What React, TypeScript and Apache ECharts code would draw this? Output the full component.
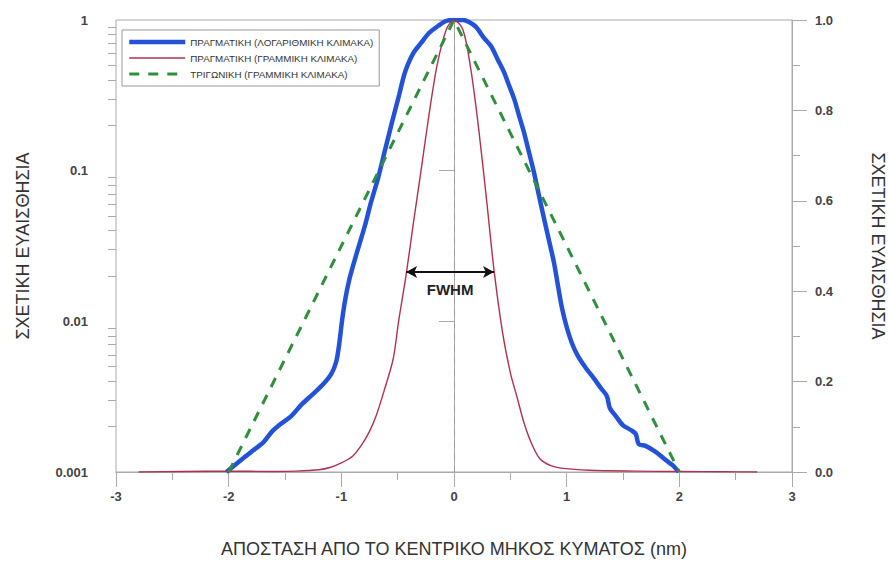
import React, { useEffect, useRef } from "react";
import * as echarts from "echarts";

// ΠΡΑΓΜΑΤΙΚΗ (ΛΟΓΑΡΙΘΜΙΚΗ ΚΛΙΜΑΚΑ) — log scale, left axis
const blueX = [-2.02, -1.92, -1.8, -1.69, -1.62, -1.55, -1.445, -1.356, -1.25, -1.16, -1.09, -1.046, -1.02, -0.993, -0.966, -0.93, -0.886, -0.842, -0.789, -0.736, -0.674, -0.612, -0.55, -0.487, -0.443, -0.408, -0.355, -0.292, -0.222, -0.142, -0.071, 0, 0.08, 0.133, 0.195, 0.266, 0.328, 0.39, 0.443, 0.487, 0.532, 0.576, 0.62, 0.665, 0.709, 0.753, 0.798, 0.842, 0.886, 0.922, 0.957, 1.0, 1.046, 1.099, 1.17, 1.24, 1.303, 1.356, 1.383, 1.436, 1.498, 1.569, 1.613, 1.64, 1.7, 1.79, 1.879, 1.94, 1.994];
const blueY = [0.001, 0.00115, 0.00136, 0.00158, 0.00184, 0.00205, 0.00235, 0.00279, 0.0033, 0.00384, 0.00447, 0.00537, 0.00697, 0.0102, 0.0139, 0.0188, 0.0248, 0.0321, 0.0436, 0.062, 0.0893, 0.137, 0.21, 0.318, 0.431, 0.51, 0.613, 0.704, 0.82, 0.912, 0.985, 1.0, 1.0, 0.97, 0.9, 0.76, 0.672, 0.543, 0.452, 0.37, 0.303, 0.234, 0.181, 0.133, 0.098, 0.069, 0.0485, 0.0347, 0.0248, 0.0174, 0.0124, 0.00917, 0.00718, 0.00589, 0.0049, 0.0042, 0.00361, 0.0032, 0.00266, 0.00235, 0.00205, 0.0019, 0.00179, 0.00153, 0.00149, 0.00136, 0.0012, 0.00111, 0.001];

// ΠΡΑΓΜΑΤΙΚΗ (ΓΡΑΜΜΙΚΗ ΚΛΙΜΑΚΑ) — linear scale, right axis
const redX = [-2.8, -2.4, -2.0, -1.6, -1.4, -1.2, -1.1, -1.0, -0.9, -0.82, -0.75, -0.69, -0.62, -0.54, -0.49, -0.425, -0.363, -0.292, -0.222, -0.15, -0.07, 0, 0.08, 0.15, 0.22, 0.29, 0.355, 0.43, 0.5, 0.56, 0.62, 0.68, 0.76, 0.86, 0.97, 1.2, 1.6, 2.0, 2.4, 2.69];
const redY = [0, 0.001, 0.002, 0.001, 0.002, 0.005, 0.01, 0.02, 0.035, 0.06, 0.09, 0.125, 0.18, 0.25, 0.336, 0.436, 0.546, 0.668, 0.79, 0.9, 0.978, 1.0, 0.978, 0.89, 0.757, 0.6, 0.447, 0.31, 0.22, 0.165, 0.11, 0.068, 0.03, 0.014, 0.008, 0.004, 0.002, 0.001, 0.0005, 0];

// ΤΡΙΓΩΝΙΚΗ (ΓΡΑΜΜΙΚΗ ΚΛΙΜΑΚΑ)
const greenX = [-2, 0, 2];
const greenY = [0, 1, 0];

const xTicks = [-3, -2, -1, 0, 1, 2, 3];
const logMinorTicks = [0.002, 0.003, 0.004, 0.005, 0.006, 0.007, 0.008, 0.009, 0.02, 0.03, 0.04, 0.05, 0.06, 0.07, 0.08, 0.09, 0.2, 0.3, 0.4, 0.5, 0.6, 0.7, 0.8, 0.9];

const fwhmX = [-0.425, 0.355];
const fwhmLevel = 0.4425;

const seriesNames = [
  "ΠΡΑΓΜΑΤΙΚΗ (ΛΟΓΑΡΙΘΜΙΚΗ ΚΛΙΜΑΚΑ)",
  "ΠΡΑΓΜΑΤΙΚΗ (ΓΡΑΜΜΙΚΗ ΚΛΙΜΑΚΑ)",
  "ΤΡΙΓΩΝΙΚΗ (ΓΡΑΜΜΙΚΗ ΚΛΙΜΑΚΑ)",
];

const zip = (xs: number[], ys: number[]) => xs.map((x, i) => [x, ys[i]]);

const AXIS = "#aaaaaa";
const LABEL = { color: "#444", fontWeight: "bold" as const, fontSize: 13, fontFamily: "Liberation Sans, Arial, sans-serif" };
const NAME = { color: "#333", fontSize: 18, fontFamily: "Liberation Sans, Arial, sans-serif" };

export default function App() {
  const ref = useRef<HTMLDivElement>(null);
  useEffect(() => {
    document.body.style.margin = "0";
    const chart = echarts.init(ref.current!, null, { renderer: "svg" });
    chart.setOption({
      animation: false,
      backgroundColor: "#fff",
      grid: {
        left: 116,
        right: 97,
        top: 20,
        bottom: 90,
        show: true,
        borderColor: AXIS,
        borderWidth: 1,
        outerBoundsMode: "none",
        containLabel: false,
      },
      legend: {
        left: 122,
        top: 30,
        orient: "vertical",
        itemWidth: 56,
        itemHeight: 12,
        itemGap: 6,
        padding: [7, 6, 7, 5],
        borderColor: "#999",
        borderWidth: 1,
        itemStyle: { opacity: 0 },
        textStyle: { fontSize: 9.8, color: "#333", fontFamily: "Liberation Sans Narrow, Arial Narrow, Liberation Sans, sans-serif" },
        data: [
          { name: seriesNames[0], lineStyle: { width: 4.5 } },
          { name: seriesNames[1], lineStyle: { width: 1.4 } },
          { name: seriesNames[2], lineStyle: { width: 3 } },
        ],
      },
      xAxis: {
        type: "value",
        min: -3,
        max: 3,
        interval: 1,
        name: "ΑΠΟΣΤΑΣΗ ΑΠΟ ΤΟ ΚΕΝΤΡΙΚΟ ΜΗΚΟΣ ΚΥΜΑΤΟΣ (nm)",
        nameLocation: "middle",
        nameGap: 68,
        nameTextStyle: NAME,
        axisLine: { show: true, lineStyle: { color: AXIS } },
        axisTick: { show: true, length: 15, lineStyle: { color: AXIS } },
        minorTick: { show: true, splitNumber: 2, length: 8, lineStyle: { color: AXIS } },
        splitLine: { show: false },
        axisLabel: { ...LABEL, margin: 18, formatter: (v: number) => (xTicks.includes(v) ? String(v) : "") },
      },
      yAxis: [
        {
          type: "log",
          logBase: 10,
          min: 0.001,
          max: 1,
          position: "left",
          name: "ΣΧΕΤΙΚΗ ΕΥΑΙΣΘΗΣΙΑ",
          nameLocation: "middle",
          nameRotate: 90,
          nameGap: 84,
          nameTextStyle: NAME,
          axisLine: { show: true, lineStyle: { color: AXIS } },
          axisTick: { show: true, length: 15, lineStyle: { color: AXIS } },
          splitLine: { show: false },
          axisLabel: { ...LABEL, margin: 28, formatter: (v: number) => String(v) },
        },
        {
          type: "log",
          logBase: 10,
          min: 0.001,
          max: 1,
          position: "left",
          axisLine: { show: false },
          axisTick: { show: true, length: 8, customValues: logMinorTicks, lineStyle: { color: AXIS } },
          axisLabel: { show: false },
          splitLine: { show: false },
        },
        {
          type: "value",
          min: 0,
          max: 1,
          interval: 0.2,
          position: "right",
          name: "ΣΧΕΤΙΚΗ ΕΥΑΙΣΘΗΣΙΑ",
          nameLocation: "middle",
          nameRotate: -90,
          nameGap: 77,
          nameTextStyle: NAME,
          axisLine: { show: true, lineStyle: { color: AXIS } },
          axisTick: { show: true, length: 15, lineStyle: { color: AXIS } },
          minorTick: { show: true, splitNumber: 2, length: 8, lineStyle: { color: AXIS } },
          splitLine: { show: false },
          axisLabel: { ...LABEL, margin: 23, formatter: (v: number) => v.toFixed(1) },
        },
      ],
      series: [
        {
          name: seriesNames[0],
          type: "line",
          yAxisIndex: 0,
          data: zip(blueX, blueY),
          smooth: 0.3,
          symbol: "none",
          color: "#2352d8",
          lineStyle: { width: 4.5, color: "#2352d8" },
          markLine: {
            silent: true,
            symbol: "none",
            label: { show: false },
            lineStyle: { color: "#999", width: 1, type: [6, 6] },
            data: [{ xAxis: 0 }],
          },
        },
        {
          name: seriesNames[1],
          type: "line",
          yAxisIndex: 2,
          data: zip(redX, redY),
          smooth: 0.3,
          symbol: "none",
          color: "#b0304f",
          lineStyle: { width: 1.4, color: "#b0304f" },
          markLine: {
            silent: true,
            symbol: ["arrow", "arrow"],
            symbolSize: [9, 11],
            lineStyle: { color: "#111", width: 2, type: "solid" },
            label: {
              show: true,
              position: "insideMiddleBottom",
              distance: 10,
              formatter: "FWHM",
              color: "#222",
              fontWeight: "bold",
              fontSize: 15,
              fontFamily: "Liberation Sans, Arial, sans-serif",
            },
            data: [[{ coord: [fwhmX[0], fwhmLevel] }, { coord: [fwhmX[1], fwhmLevel] }]],
          },
        },
        {
          name: seriesNames[2],
          type: "line",
          yAxisIndex: 2,
          data: zip(greenX, greenY),
          symbol: "none",
          color: "#2f8f3e",
          lineStyle: { width: 3, color: "#2f8f3e", type: [10, 9] },
        },
      ],
    });
    return () => chart.dispose();
  }, []);
  return <div ref={ref} style={{ width: 889, height: 562 }} />;
}
